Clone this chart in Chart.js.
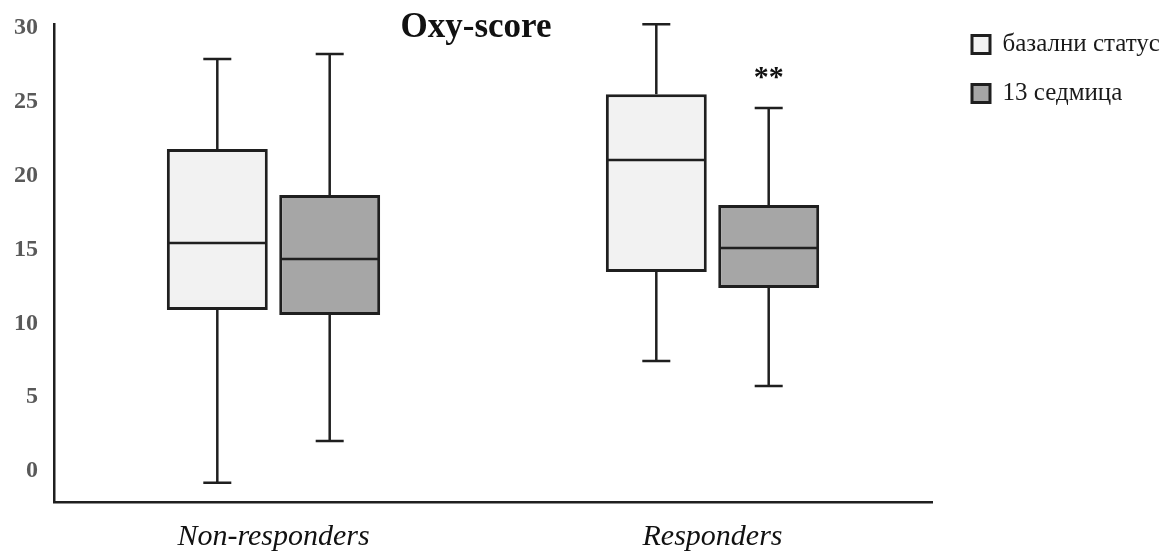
<!DOCTYPE html>
<html>
<head>
<meta charset="utf-8">
<script src="https://cdn.jsdelivr.net/npm/chart.js@4.4.1/dist/chart.umd.min.js"></script>
<style>
  body { margin: 0; background: #fff; }
  #wrap { width: 1169px; height: 551px; }
</style>
</head>
<body>
<div id="wrap"><canvas id="oxyChart" width="1169" height="551"></canvas></div>
<script>
// groups and series
var groups = ['Non-responders', 'Responders'];
var seriesNames = ['базални статус', '13 седмица'];

// box plot values (min, Q1, median, Q3, max)
var baseMin = [-0.8, 7.45];
var baseQ1 = [10.9, 13.47];
var baseMedian = [15.44, 21.06];
var baseQ3 = [21.8, 25.52];
var baseMax = [27.9, 30.26];

var wk13Min = [2.03, 5.75];
var wk13Q1 = [10.56, 12.39];
var wk13Median = [14.35, 15.1];
var wk13Q3 = [18.69, 18.01];
var wk13Max = [28.23, 24.58];

var yTicks = [0, 5, 10, 15, 20, 25, 30];
var titleText = 'Oxy-score';
var markText = '**';   // sits over the 13 седмица box of Responders

var lineColor = '#1f1f1f';
var serif = "'Liberation Serif', 'Times New Roman', serif";

function boxes(q1, q3) {
  return q1.map(function (v, i) { return [v, q3[i]]; });
}

// whiskers, caps and medians drawn from each bar's own position
var boxPlotExtras = {
  id: 'boxPlotExtras',
  afterDatasetsDraw: function (chart) {
    var ctx = chart.ctx;
    var y = chart.scales.y;
    ctx.save();
    ctx.strokeStyle = lineColor;
    chart.data.datasets.forEach(function (ds, di) {
      var meta = chart.getDatasetMeta(di);
      meta.data.forEach(function (bar, i) {
        var p = bar.getProps(['x', 'width'], true);
        var yMin = y.getPixelForValue(ds.whiskerMin[i]);
        var yMax = y.getPixelForValue(ds.whiskerMax[i]);
        var yQ1 = y.getPixelForValue(ds.data[i][0]);
        var yQ3 = y.getPixelForValue(ds.data[i][1]);
        var yMed = y.getPixelForValue(ds.median[i]);
        ctx.lineWidth = 2.5;
        ctx.beginPath();
        ctx.moveTo(p.x, yQ3); ctx.lineTo(p.x, yMax);
        ctx.moveTo(p.x - 14, yMax); ctx.lineTo(p.x + 14, yMax);
        ctx.moveTo(p.x, yQ1); ctx.lineTo(p.x, yMin);
        ctx.moveTo(p.x - 14, yMin); ctx.lineTo(p.x + 14, yMin);
        ctx.stroke();
        ctx.beginPath();
        ctx.moveTo(p.x - p.width / 2 + 2, yMed);
        ctx.lineTo(p.x + p.width / 2 - 2, yMed);
        ctx.stroke();
      });
    });
    // significance mark above the Responders / 13 седмица whisker
    var bar13 = chart.getDatasetMeta(1).data[1];
    var ds13 = chart.data.datasets[1];
    ctx.fillStyle = '#111';
    ctx.font = 'bold 30px ' + serif;
    ctx.textAlign = 'center';
    ctx.textBaseline = 'middle';
    ctx.fillText(markText, bar13.x, y.getPixelForValue(ds13.whiskerMax[1]) - 30);
    // title
    ctx.font = 'bold 35px ' + serif;
    ctx.textBaseline = 'alphabetic';
    ctx.fillText(titleText, 476, 37);
    ctx.restore();
  },
  afterLayout: function (chart) {
    // legend sits a little away from the plot
    chart.legend.left += 16;
    chart.legend.right += 16;
  }
};

new Chart('oxyChart', {
  type: 'bar',
  data: {
    labels: groups,
    datasets: [{
      label: seriesNames[0],
      data: boxes(baseQ1, baseQ3),
      whiskerMin: baseMin,
      whiskerMax: baseMax,
      median: baseMedian,
      backgroundColor: '#f2f2f2',
      borderColor: lineColor,
      borderWidth: 3,
      borderSkipped: false
    }, {
      label: seriesNames[1],
      data: boxes(wk13Q1, wk13Q3),
      whiskerMin: wk13Min,
      whiskerMax: wk13Max,
      median: wk13Median,
      backgroundColor: '#a6a6a6',
      borderColor: lineColor,
      borderWidth: 3,
      borderSkipped: false
    }]
  },
  options: {
    responsive: false,
    animation: false,
    categoryPercentage: 0.512,
    barPercentage: 0.898,
    layout: { padding: { top: 8, left: 0, right: 0, bottom: 0 } },
    plugins: {
      tooltip: { enabled: false },
      title: { display: false },
      legend: {
        position: 'right',
        align: 'start',
        labels: {
          boxWidth: 18,
          boxHeight: 18,
          padding: 24,
          color: '#1a1a1a',
          font: { family: serif, size: 25 }
        }
      }
    },
    scales: {
      x: {
        grid: { display: false, drawTicks: false },
        border: { color: lineColor, width: 2.5 },
        ticks: {
          color: '#111',
          padding: 17,
          font: { family: serif, size: 30, style: 'italic' }
        },
        afterFit: function (s) {
          s.height = 49;
          s.paddingRight = 237;
        }
      },
      y: {
        min: -2.1,
        max: 30.27,
        grid: { display: false, drawTicks: false },
        border: { color: lineColor, width: 2.5 },
        ticks: {
          color: '#595959',
          padding: 16,
          font: { family: serif, size: 24, weight: 'bold' }
        },
        afterBuildTicks: function (s) {
          s.ticks = yTicks.map(function (v) { return { value: v }; });
        },
        afterFit: function (s) {
          s.width = 54;
          s.paddingTop = 24;
        }
      }
    }
  },
  plugins: [boxPlotExtras]
});
</script>
</body>
</html>
